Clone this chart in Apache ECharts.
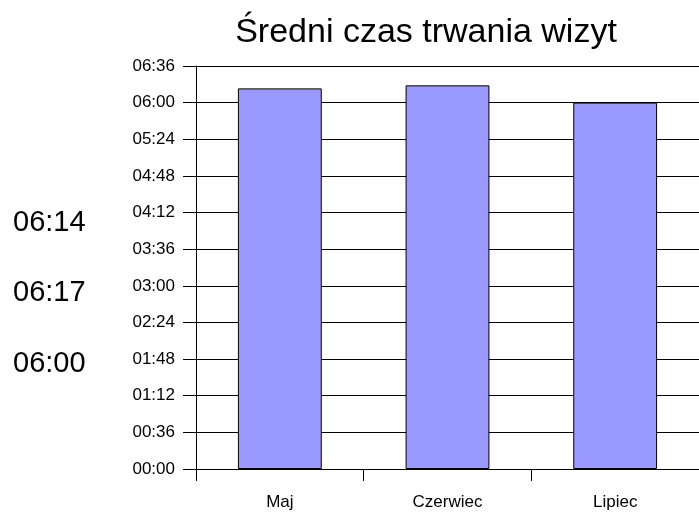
<!DOCTYPE html>
<html>
<head>
<meta charset="utf-8">
<script src="https://cdn.jsdelivr.net/npm/echarts@6/dist/echarts.min.js"></script>
<style>
  html, body { margin: 0; padding: 0; background: #fff; }
  #chart { width: 699px; height: 512px; }
</style>
</head>
<body>
<div id="chart"></div>
<script>
// dane: średni czas wizyty w sekundach
const months = ['Maj', 'Czerwiec', 'Lipiec'];
const avgSeconds = [374, 377, 360];
const axisMax = 396;
const axisStep = 36;

const FONT = '"Liberation Sans", Arial, sans-serif';

function fmt(v) {
    const m = Math.floor(v / 60);
    const s = Math.round(v % 60);
    return String(m).padStart(2, '0') + ':' + String(s).padStart(2, '0');
}

const chart = echarts.init(document.getElementById('chart'));

// etykiety z lewej strony (wartości wypisane jako tekst)
const sideLabels = avgSeconds.map((v, i) => ({
    type: 'text',
    left: 13,
    top: 208 + i * 70.5,
    style: { text: fmt(v), font: '29px ' + FONT, fill: '#000' }
}));

chart.setOption({
    animation: false,
    backgroundColor: '#fff',
    title: {
        text: 'Średni czas trwania wizyt',
        left: 421,
        top: 11,
        textAlign: 'center',
        textStyle: { fontFamily: FONT, fontSize: 34, fontWeight: 'normal', color: '#000' }
    },
    grid: { left: 196, top: 66, width: 514, height: 403 },
    xAxis: {
        type: 'category',
        data: months,
        axisLine: { lineStyle: { color: '#000', width: 1 } },
        axisTick: { show: true, length: 12, lineStyle: { color: '#000' } },
        axisLabel: { color: '#000', fontFamily: FONT, fontSize: 17, margin: 25 }
    },
    yAxis: {
        type: 'value',
        min: 0,
        max: axisMax,
        interval: axisStep,
        axisLine: { show: true, lineStyle: { color: '#000', width: 1 } },
        axisTick: { show: true, length: 13, lineStyle: { color: '#000' } },
        axisLabel: { color: '#000', fontFamily: FONT, fontSize: 17, margin: 21, formatter: fmt },
        splitLine: { show: true, lineStyle: { color: '#000', width: 1 } }
    },
    series: [{
        type: 'bar',
        data: avgSeconds,
        barWidth: '50%',
        itemStyle: { color: '#9999ff', borderColor: '#000', borderWidth: 1 }
    }],
    graphic: sideLabels
});
</script>
</body>
</html>
